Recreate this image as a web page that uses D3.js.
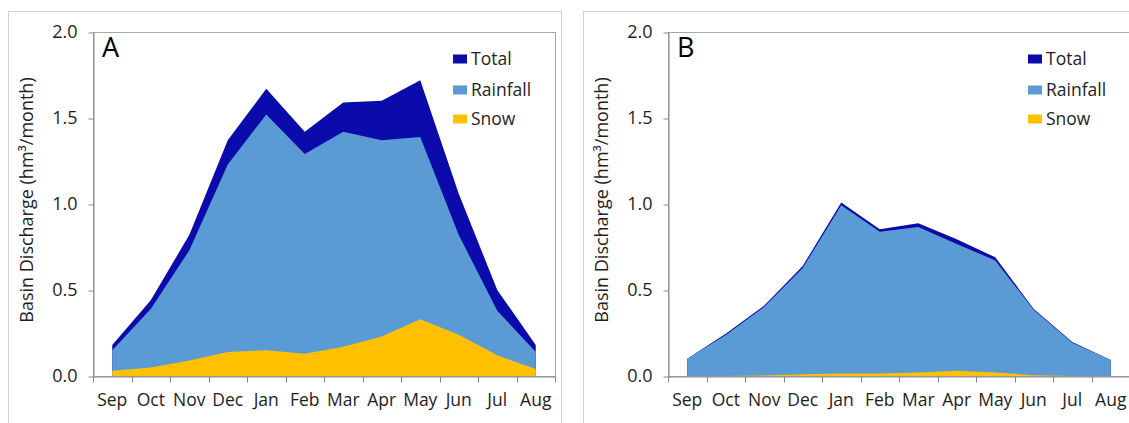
<!DOCTYPE html>
<html>
<head>
<meta charset="utf-8">
<script src="https://cdn.jsdelivr.net/npm/d3@7"></script>
<style>
  html, body { margin: 0; padding: 0; background: #ffffff; }
  svg { display: block; font-family: "Open Sans", "Noto Sans", sans-serif; }
</style>
</head>
<body>
<svg id="chart" width="1129" height="423"></svg>
<script>
// Monthly basin discharge (hm³/month), hydrological year Sep–Aug
const months = ["Sep", "Oct", "Nov", "Dec", "Jan", "Feb", "Mar", "Apr", "May", "Jun", "Jul", "Aug"];

// Panel A
const totalA = [0.18, 0.44, 0.82, 1.37, 1.67, 1.42, 1.59, 1.60, 1.72, 1.06, 0.50, 0.18];
const rainA  = [0.15, 0.39, 0.73, 1.23, 1.52, 1.29, 1.42, 1.37, 1.39, 0.82, 0.38, 0.14];
const snowA  = [0.03, 0.05, 0.09, 0.14, 0.15, 0.13, 0.17, 0.23, 0.33, 0.24, 0.12, 0.04];

// Panel B
const totalB = [0.10, 0.245, 0.41, 0.64, 1.008, 0.853, 0.888, 0.795, 0.69, 0.39, 0.198, 0.093];
const rainB  = [0.10, 0.238, 0.402, 0.628, 0.993, 0.838, 0.866, 0.768, 0.672, 0.384, 0.194, 0.093];
const snowB  = [0.0, 0.0, 0.003, 0.01, 0.015, 0.015, 0.02, 0.03, 0.02, 0.005, 0.0, 0.0];

const yTicks = [0, 0.5, 1.0, 1.5, 2.0];
const seriesNames = ["Total", "Rainfall", "Snow"];
const seriesColors = ["#0b0bab", "#5b9bd5", "#ffc000"];
const textColor = "#1e1e1e";

const svg = d3.select("#chart");

// Outer chart frames
svg.append("rect").attr("x", 8.5).attr("y", 11.5).attr("width", 553).attr("height", 430)
  .attr("fill", "#ffffff").attr("stroke", "#d0d0d0").attr("stroke-width", 1);
svg.append("rect").attr("x", 583.5).attr("y", 11.5).attr("width", 560).attr("height", 430)
  .attr("fill", "#ffffff").attr("stroke", "#d0d0d0").attr("stroke-width", 1);

function drawPanel(left, letter, total, rain, snow) {
  const top = 32, W = 462, H = 344;
  const g = svg.append("g").attr("transform", `translate(${left},${top})`);

  const x = d3.scaleBand().domain(months).range([0, W]);
  const px = (d, i) => x(months[i]) + x.bandwidth() / 2;
  const y = d3.scaleLinear().domain([0, 2]).range([H, 0]);

  // plot area border
  g.append("rect").attr("x", 0.5).attr("y", 0.5).attr("width", W).attr("height", H)
    .attr("fill", "none").attr("stroke", "#a6a6a6").attr("stroke-width", 1);

  const area = d3.area().x(px).y0(y(0)).y1(d => y(d));
  const layers = [total, rain, snow];
  layers.forEach((vals, k) => {
    g.append("path").datum(vals).attr("d", area).attr("fill", seriesColors[k]);
  });

  // y axis
  const yAxis = d3.axisLeft(y).tickValues(yTicks).tickFormat(d3.format(".1f"))
    .tickSize(5).tickSizeOuter(0).tickPadding(11);
  const ya = g.append("g").attr("transform", "translate(0.5,0)").call(yAxis);
  ya.select(".domain").attr("stroke", "#888888");
  ya.selectAll(".tick line").attr("stroke", "#888888").attr("transform", "translate(0,0.5)");
  ya.selectAll("text").attr("font-size", 18).attr("fill", textColor)
    .attr("font-family", "'Open Sans', sans-serif");

  // x axis: labels centred in each band, tick marks on band edges
  const xAxis = d3.axisBottom(x).tickSize(0).tickSizeOuter(0).tickPadding(17);
  const xa = g.append("g").attr("transform", `translate(0,${H + 0.5})`).call(xAxis);
  xa.select(".domain").attr("stroke", "#888888");
  xa.selectAll("text").attr("font-size", 17.5).attr("fill", textColor)
    .attr("font-family", "'Open Sans', sans-serif");
  const edges = months.map(m => x(m)).concat([W]);
  xa.selectAll("line.edge").data(edges).join("line").attr("class", "edge")
    .attr("x1", d => Math.round(d) + 0.5).attr("x2", d => Math.round(d) + 0.5)
    .attr("y1", 0).attr("y2", 6).attr("stroke", "#888888");

  // axis title
  g.append("text")
    .attr("transform", `translate(-60,${H / 2 - 4}) rotate(-90)`)
    .attr("text-anchor", "middle").attr("font-size", 18).attr("fill", textColor)
    .text("Basin Discharge (hm³/month)");

  // panel letter
  g.append("text").attr("x", 9).attr("y", 25).attr("font-size", 27).attr("fill", "#000000")
    .text(letter);

  // legend
  const rowY = [27, 58, 87];
  const lg = g.append("g").attr("transform", "translate(360,0)");
  seriesNames.forEach((name, k) => {
    lg.append("rect").attr("x", 0).attr("y", rowY[k] - 4.5).attr("width", 14).attr("height", 9)
      .attr("fill", seriesColors[k]);
    lg.append("text").attr("x", 18).attr("y", rowY[k] + 6).attr("font-size", 17.5)
      .attr("fill", textColor).text(name);
  });
}

drawPanel(93, "A", totalA, rainA, snowA);
drawPanel(668, "B", totalB, rainB, snowB);
</script>
</body>
</html>
